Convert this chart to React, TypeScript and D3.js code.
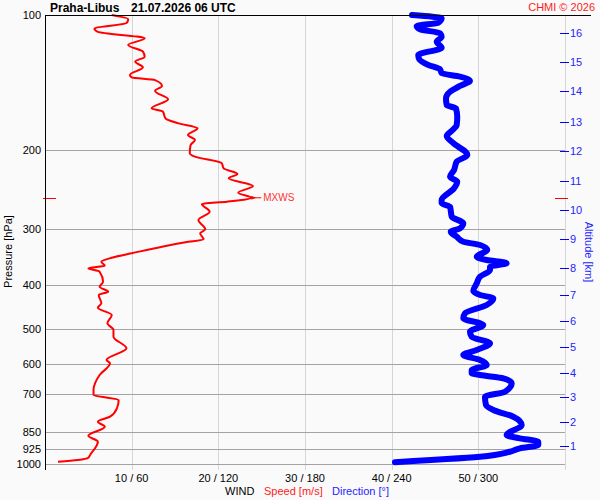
import React, { useEffect } from "react";
import * as d3 from "d3";

// ---- data ----
const stationName = "Praha-Libus";
const timeLabel = "21.07.2026 06 UTC";
const copyright = "CHMI © 2026";

const pressureTicks = [100, 200, 300, 400, 500, 600, 700, 850, 925, 1000];
const speedTicks = [10, 20, 30, 40, 50];
const speedGrid = [10, 20, 30, 40, 50, 60];

const altitudeKm = [1, 2, 3, 4, 5, 6, 7, 8, 9, 10, 11, 12, 13, 14, 15, 16];
const altitudePressure = [913, 807.5, 709.2, 626.2, 549.7, 480.3, 420.3, 365.4, 316.0, 272.3, 233.9, 200.6, 172.9, 147.6, 127.4, 109.5];

// wind speed profile [hPa] / [m/s]
const speedPressure = [
  100, 102.2, 104.3, 107.1, 109.0, 112.7, 116.6, 120.7, 123.8, 127.0, 130.8, 136.0, 137.7, 139.6, 143.9, 147.6,
  154.1, 161.4, 164.2, 169.9, 174.3, 178.8, 185.1, 189.8, 194.8, 203.2, 206.8, 213.9, 219.5, 226.0, 231.0, 240.4,
  248.8, 255.3, 260.5, 263.6, 274.2, 286.1, 300.1, 306.3, 316.0, 320.9, 328.1, 339.4, 347.2, 354.4, 361.7, 366.6,
  373.0, 392.6, 402.8, 413.3, 420.3, 438.6, 448.6, 465.7, 486.0, 502.9, 520.5, 552.5, 586.7, 596.7, 633.6, 684.0,
  701.9, 720.2, 751.6, 784.7, 805.1, 826.0, 865.0, 892.0, 955.0, 968.3, 979.8, 988.3,
];
const speedValues = [
  7.7, 9.6, 9.4, 5.7, 6.1, 11.5, 9.6, 11.3, 11.5, 10.4, 11.3, 9.8, 10.0, 12.7, 13.5, 12.7,
  14.2, 12.3, 13.6, 13.9, 15.4, 17.6, 16.5, 17.3, 16.8, 16.7, 17.3, 20.4, 20.6, 22.2, 21.2, 24.0,
  22.3, 23.8, 21.0, 18.1, 19.0, 17.7, 18.5, 17.9, 18.3, 16.2, 13.5, 10.0, 7.7, 6.5, 6.9, 5.0,
  6.3, 6.7, 6.3, 7.3, 6.2, 6.5, 6.1, 7.7, 7.2, 7.9, 7.9, 9.4, 7.1, 7.5, 6.3, 5.6,
  5.6, 8.5, 8.3, 7.5, 6.1, 6.9, 5.0, 6.1, 5.2, 5.0, 3.8, 1.5,
];

// wind direction profile [hPa] / [deg]
const dirPressure = [
  100, 101.7, 104.0, 105.8, 107.6, 109.8, 111.8, 114.7, 118.3, 122.8, 125.5, 129.2, 132.1, 134.8, 137.2, 140.1,
  143.9, 148.2, 153.3, 158.7, 161.4, 168.5, 175.8, 181.0, 186.0, 192.5, 205.0, 212.2, 221.4, 229.2, 235.1, 243.2,
  258.2, 262.7, 267.3, 281.3, 291.0, 298.6, 303.8, 311.7, 319.8, 325.3, 333.8, 345.4, 351.3, 357.3, 363.6, 369.8,
  382.7, 395.9, 411.8, 420.3, 427.6, 442.5, 461.7, 473.7, 486.0, 490.2, 507.4, 520.5, 538.4, 557.2, 571.7, 586.7,
  602.0, 617.6, 628.1, 633.6, 644.4, 661.2, 690.2, 708.1, 739.0, 758.2, 784.7, 818.9, 861.8, 876.6, 892.0, 907.3,
  922.7, 939.0, 963.2, 974.8, 984.7, 991.3,
];
const dirValues = [
  254.1, 274.6, 272.3, 257.3, 259.6, 273.5, 274.6, 271.2, 274.6, 258.4, 259.1, 265.4, 273.5, 274.6, 287.3, 294.2,
  287.3, 280.4, 277.6, 278.1, 284.5, 285.4, 285.0, 281.6, 278.1, 282.3, 292.4, 285.0, 283.2, 280.4, 285.4, 283.2,
  274.6, 274.6, 280.4, 281.6, 289.6, 287.3, 280.9, 285.0, 289.6, 301.2, 306.2, 298.9, 305.8, 319.6, 308.1, 308.1,
  301.2, 298.9, 296.5, 301.2, 310.4, 305.8, 290.8, 289.6, 301.2, 303.4, 294.2, 295.4, 308.1, 298.9, 289.6, 301.2,
  305.8, 295.4, 295.4, 301.2, 317.3, 323.1, 318.5, 304.6, 305.3, 310.4, 324.2, 330.0, 319.6, 328.8, 341.5, 341.5,
  328.8, 321.9, 301.2, 278.1, 255.0, 242.3,
];

// maximum wind
const mxwsPressure = [255.3];
const mxwsSpeed = [23.8];

const FONT = "'Liberation Sans', Arial, sans-serif";

export default function App() {
  useEffect(() => {
    document.body.style.margin = "0";
  }, []);

  const left = 45;
  const right = 565;
  const top = 15;
  const bottom = 464;
  const gridBottom = 470;

  const y = d3.scaleLog().domain([100, 1000]).range([top, bottom]);
  const xs = d3.scaleLinear().domain([0, 60]).range([left, right]);
  const xd = d3.scaleLinear().domain([0, 360]).range([left, right]);

  const speedPath =
    d3
      .line<number>()
      .x((d) => xs(d))
      .y((_, i) => y(speedPressure[i]))
      .curve(d3.curveMonotoneY)(speedValues) || "";
  const dirPath =
    d3
      .line<number>()
      .x((d) => xd(d))
      .y((_, i) => y(dirPressure[i]))
      .curve(d3.curveMonotoneY)(dirValues) || "";

  const mxY = y(mxwsPressure[0]);
  const mxX = xs(mxwsSpeed[0]);

  return (
    <svg
      width={600}
      height={500}
      style={{ display: "block", position: "absolute", left: 0, top: 0, background: "#fafafa" }}
      fontFamily={FONT}
    >
      <rect x={0} y={0} width={600} height={500} fill="#fafafa" />

      {/* vertical grid */}
      {speedGrid.map((s) => (
        <line
          key={"v" + s}
          x1={Math.round(xs(s)) + 0.5}
          x2={Math.round(xs(s)) + 0.5}
          y1={top}
          y2={gridBottom}
          stroke="#d6d6d6"
          strokeWidth={1}
          shapeRendering="crispEdges"
        />
      ))}

      {/* horizontal grid */}
      {pressureTicks
        .filter((p) => p !== 100)
        .map((p) => (
          <line
            key={"h" + p}
            x1={left}
            x2={right}
            y1={Math.round(y(p)) + 0.5}
            y2={Math.round(y(p)) + 0.5}
            stroke="#a3a3a3"
            strokeWidth={1}
            shapeRendering="crispEdges"
          />
        ))}

      {/* pressure labels */}
      {pressureTicks.map((p) => (
        <text key={"pl" + p} x={41} y={y(p)} dy="0.36em" textAnchor="end" fontSize={11} fill="#000">
          {p}
        </text>
      ))}

      {/* speed / direction labels */}
      {speedTicks.map((s) => (
        <text key={"sl" + s} x={xs(s)} y={482} textAnchor="middle" fontSize={11} fill="#000">
          {`${s} / ${s * 6}`}
        </text>
      ))}

      <text x={225} y={495} fontSize={11} fill="#000">WIND</text>
      <text x={264} y={495} fontSize={11} fill="#ff1a1a">Speed [m/s]</text>
      <text x={332} y={495} fontSize={11} fill="#2424ff">Direction [°]</text>

      {/* axis titles */}
      <text transform="translate(12,251.5) rotate(-90)" textAnchor="middle" fontSize={11} fill="#000">
        Pressure [hPa]
      </text>
      <text transform="translate(585,252) rotate(90)" textAnchor="middle" fontSize={11} fill="#2424ff">
        Altitude [km]
      </text>

      {/* altitude ticks */}
      {altitudeKm.map((k, i) => (
        <g key={"a" + k}>
          <line
            x1={560}
            x2={569}
            y1={Math.round(y(altitudePressure[i])) + 0.5}
            y2={Math.round(y(altitudePressure[i])) + 0.5}
            stroke="#0000ff"
            strokeWidth={1}
            shapeRendering="crispEdges"
          />
          <text x={570} y={y(altitudePressure[i])} dy="0.36em" fontSize={11} fill="#2424ff">
            {k}
          </text>
        </g>
      ))}

      {/* MXWS level markers on axes */}
      <line x1={43} x2={56} y1={Math.round(mxY) + 0.5} y2={Math.round(mxY) + 0.5} stroke="red" strokeWidth={1} shapeRendering="crispEdges" />
      <line x1={555} x2={568} y1={Math.round(mxY) + 0.5} y2={Math.round(mxY) + 0.5} stroke="red" strokeWidth={1} shapeRendering="crispEdges" />

      {/* curves */}
      <path d={dirPath} fill="none" stroke="#0000ff" strokeWidth={6} strokeLinejoin="round" strokeLinecap="round" />
      <path d={speedPath} fill="none" stroke="#ff0000" strokeWidth={2} strokeLinejoin="round" />

      {/* MXWS marker */}
      <line x1={mxX} x2={mxX + 10} y1={mxY} y2={mxY} stroke="red" strokeWidth={1} />
      <path d={`M${mxX},${mxY - 2}L${mxX + 5},${mxY}L${mxX},${mxY + 2}Z`} fill="red" />
      <text x={mxX + 12} y={mxY} dy="0.36em" fontSize={10} fill="#ff3333">MXWS</text>

      {/* frame */}
      <line x1={left + 0.5} x2={left + 0.5} y1={top} y2={gridBottom} stroke="#000" strokeWidth={1} shapeRendering="crispEdges" />
      <line x1={left} x2={591} y1={top + 0.5} y2={top + 0.5} stroke="#000" strokeWidth={1} shapeRendering="crispEdges" />

      {/* titles */}
      <text x={50} y={11.5} fontSize={12} fontWeight="bold" fill="#000">{stationName}</text>
      <text x={131} y={11.5} fontSize={12} fontWeight="bold" fill="#000">{timeLabel}</text>
      <text x={595} y={11} textAnchor="end" fontSize={11} fill="#ff1a1a">{copyright}</text>
    </svg>
  );
}
